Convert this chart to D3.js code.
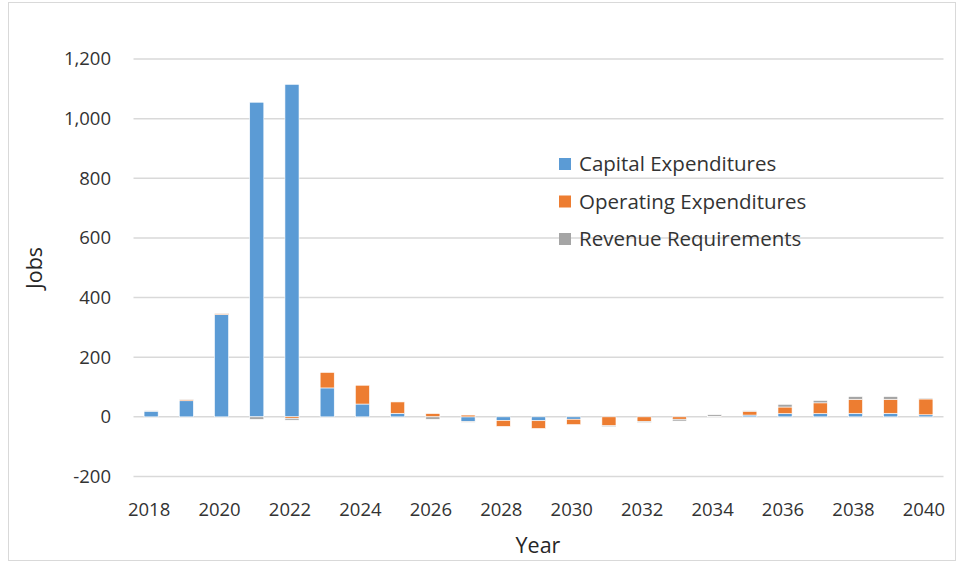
<!DOCTYPE html>
<html>
<head>
<meta charset="utf-8">
<script src="https://cdn.jsdelivr.net/npm/d3@7"></script>
<style>
  html, body { margin: 0; padding: 0; background: #fff; }
  svg { display: block; font-family: "Open Sans", "Liberation Sans", Arial, sans-serif; }
</style>
</head>
<body>
<svg id="chart" width="964" height="564"></svg>
<script>
const years = [2018,2019,2020,2021,2022,2023,2024,2025,2026,2027,2028,2029,2030,2031,2032,2033,2034,2035,2036,2037,2038,2039,2040];
const capitalExpenditures   = [19, 54, 343, 1055, 1115, 97, 43, 12, 0, -15, -12, -13, -8, 0, 0, 0, 0, 6, 11, 11, 12, 12, 7];
const operatingExpenditures = [0, 4, 4, 0, -5, 52, 63, 38, 11, 6, -20, -26, -18, -30, -15, -8, 2, 13, 22, 36, 47, 47, 53];
const revenueRequirements   = [2, 1, 1, -8, -6, 0, 0, 0, -8, -3, 0, 0, 0, -3, -4, -6, 5, 2, 9, 8, 9, 9, 3];
const seriesNames = ["Capital Expenditures", "Operating Expenditures", "Revenue Requirements"];
const seriesColors = ["#5B9BD5", "#ED7D31", "#A5A5A5"];
const yTicks = [-200, 0, 200, 400, 600, 800, 1000, 1200];
const xTickYears = [2018,2020,2022,2024,2026,2028,2030,2032,2034,2036,2038,2040];

const svg = d3.select("#chart");
const W = 964, H = 564;
const plot = { left: 133.5, right: 943.5, top: 59, bottom: 476.5 };
const FONT = "'Open Sans', 'Liberation Sans', Arial, sans-serif";

// outer frame
svg.append("rect").attr("x", 8.5).attr("y", 2.5).attr("width", W - 17).attr("height", H - 6)
  .attr("fill", "none").attr("stroke", "#d9d9d9").attr("stroke-width", 1);

const rows = years.map((y, i) => ({
  year: y,
  "Capital Expenditures": capitalExpenditures[i],
  "Operating Expenditures": operatingExpenditures[i],
  "Revenue Requirements": revenueRequirements[i]
}));

const stacked = d3.stack().keys(seriesNames).offset(d3.stackOffsetDiverging)(rows);

const x = d3.scaleBand().domain(years).range([plot.left, plot.right]).paddingInner(0.6).paddingOuter(0.3);
const y = d3.scaleLinear().domain([-200, 1200]).range([plot.bottom, plot.top]);

// gridlines
svg.append("g").selectAll("line").data(yTicks).join("line")
  .attr("x1", plot.left).attr("x2", plot.right)
  .attr("y1", d => y(d)).attr("y2", d => y(d))
  .attr("stroke", "#d9d9d9").attr("stroke-width", 1.5);

// y axis labels
const fmt = d3.format(",");
const yAxis = d3.axisLeft(y).tickValues(yTicks).tickSize(0).tickPadding(0)
  .tickFormat(d => fmt(d).replace("\u2212", "-"));
const gy = svg.append("g").attr("transform", `translate(111,0)`).call(yAxis);
gy.select(".domain").remove();
gy.selectAll("text").attr("font-size", 18.5).attr("fill", "#333333")
  .attr("font-family", FONT);

// bars
svg.append("g").selectAll("g").data(stacked).join("g")
  .attr("fill", (d, i) => seriesColors[i])
  .selectAll("rect").data(d => d.filter(p => p[1] !== p[0])).join("rect")
  .attr("x", d => x(d.data.year))
  .attr("width", x.bandwidth())
  .attr("y", d => y(Math.max(d[0], d[1])))
  .attr("height", d => Math.abs(y(d[0]) - y(d[1])))
  .attr("stroke", "#ffffff").attr("stroke-width", 0.6);

// x axis labels
const xAxis = d3.axisBottom(x).tickValues(xTickYears).tickSize(0).tickPadding(0);
const gx = svg.append("g").attr("transform", `translate(-2,${plot.bottom + 39})`).call(xAxis);
gx.select(".domain").remove();
gx.selectAll("text").attr("font-size", 18.5).attr("fill", "#333333").attr("dy", 0)
  .attr("font-family", FONT);

// axis titles
svg.append("text").attr("x", 538).attr("y", 553).attr("text-anchor", "middle")
  .attr("font-size", 21.5).attr("fill", "#262626").text("Year");
svg.append("text").attr("transform", "translate(42,268) rotate(-90)").attr("text-anchor", "middle")
  .attr("font-size", 21.5).attr("fill", "#262626").text("Jobs");

// legend
const legend = svg.append("g").attr("transform", "translate(559,164)");
const li = legend.selectAll("g").data(seriesNames).join("g")
  .attr("transform", (d, i) => `translate(0,${i * 37.5})`);
li.append("rect").attr("x", 0).attr("y", -6).attr("width", 12).attr("height", 12)
  .attr("fill", (d, i) => seriesColors[i]);
li.append("text").attr("x", 20).attr("y", 0).attr("dy", "0.35em")
  .attr("font-size", 20.5).attr("fill", "#333333").text(d => d);
</script>
</body>
</html>
